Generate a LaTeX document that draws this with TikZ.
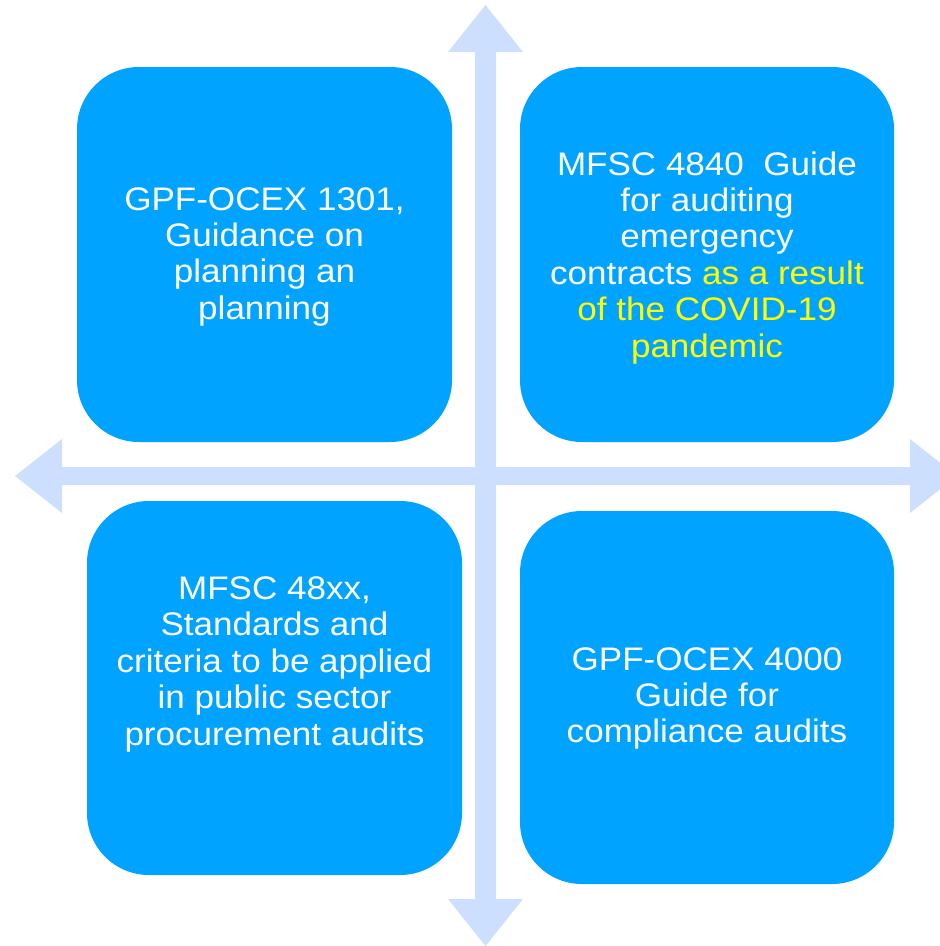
\documentclass[tikz,border=0pt]{standalone}
\usepackage{fontspec}
\setmainfont{Liberation Sans}[FakeStretch=1.075]
\definecolor{boxblue}{RGB}{0,163,255}
\definecolor{arrowblue}{RGB}{204,223,255}
\definecolor{hlyellow}{RGB}{255,255,0}
\tikzset{
  quad/.style={fill=boxblue, draw=none, rounded corners=62pt},
  quadtext/.style={anchor=base, inner sep=0pt, text=white,
    font=\fontsize{32.6}{36.4}\selectfont},
  axisarrow/.style={fill=arrowblue, draw=none}
}
\newcommand{\qlines}[1]{\begin{tabular}[t]{@{}c@{}}#1\end{tabular}}
\begin{document}
\begin{tikzpicture}[x=1pt,y=-1pt]
\useasboundingbox (0,0) rectangle (940,946);
\clip (0,0) rectangle (940,946);
% axes (double-headed block arrows)
\path[axisarrow] (485.5,5) -- (523,52) -- (496,52) -- (496,899) -- (523,899)
  -- (485.5,946) -- (448,899) -- (475,899) -- (475,52) -- (448,52) -- cycle;
\path[axisarrow] (15,476) -- (62,439) -- (62,467) -- (910,467) -- (910,439)
  -- (957,476) -- (910,513) -- (910,485) -- (62,485) -- (62,513) -- cycle;
% boxes
\path[quad] (77,67) rectangle (452,442);
\path[quad] (520,67) rectangle (894,442);
\path[quad] (87,501) rectangle (462,875);
\path[quad] (520,511) rectangle (894,884);
\node[quadtext] (tl) at (264.5,210) {\qlines{GPF-OCEX 1301,\\Guidance on\\planning an\\planning}};
\node[quadtext] (tr) at (707,175) {\qlines{MFSC 4840\ \ Guide\\for auditing\\emergency\\contracts \textcolor{hlyellow}{as a result}\\\textcolor{hlyellow}{of the COVID-19}\\\textcolor{hlyellow}{pandemic}}};
\node[quadtext] (bl) at (274.5,599.5) {\qlines{MFSC 48xx,\\Standards and\\criteria to be applied\\in public sector\\procurement audits}};
\node[quadtext] (br) at (707,670) {\qlines{GPF-OCEX 4000\\Guide for\\compliance audits}};
\end{tikzpicture}
\end{document}
